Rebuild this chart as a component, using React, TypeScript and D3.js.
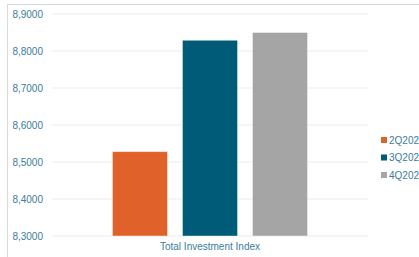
import React from 'react'
import * as d3 from 'd3'

const categories = ['Total Investment Index']
const seriesNames = ['2Q2023', '3Q2023', '4Q2023']
const seriesValues = [8.528, 8.829, 8.85]
const yTicks = [8.3, 8.4, 8.5, 8.6, 8.7, 8.8, 8.9]

const colors = ['#E0622A', '#005B79', '#A5A5A5']
const textColor = '#3A7C9E'

const App = () => {
  const width = 419
  const height = 257
  const plot = { left: 52, right: 368, top: 14, bottom: 236 }

  const y = d3.scaleLinear()
    .domain([8.3, 8.9])
    .range([plot.bottom, plot.top])

  const x0 = d3.scaleBand()
    .domain(categories)
    .range([plot.left, plot.right])
    .paddingInner(0)
    .paddingOuter(0.31)

  const x1 = d3.scaleBand()
    .domain(seriesNames)
    .range([0, x0.bandwidth()])
    .paddingInner(0.214)
    .paddingOuter(0)

  const fmt = (v: number) => d3.format('.4f')(v).replace('.', ',')

  return (
    <svg width={width} height={height}
      style={{ position: 'absolute', left: 0, top: 0, display: 'block', background: '#fff' }}
      fontFamily="'Liberation Sans', Arial, sans-serif">
      {/* chart frame */}
      <rect x={7.5} y={4.5} width={430} height={270} fill="none" stroke="#d9d9d9" />

      {/* grid and y labels */}
      {yTicks.map(t => (
        <g key={t}>
          <line x1={plot.left} x2={plot.right} y1={y(t)} y2={y(t)} stroke="#ebebeb" strokeWidth={1} />
          <text x={43} y={y(t)} dy="0.35em" textAnchor="end" fontSize={10} fill={textColor}>{fmt(t)}</text>
        </g>
      ))}

      {/* bars */}
      {categories.map(c => (
        <g key={c} transform={`translate(${x0(c)},0)`}>
          {seriesNames.map((s, i) => (
            <rect key={s}
              x={x1(s)}
              y={y(seriesValues[i])}
              width={x1.bandwidth()}
              height={y(8.3) - y(seriesValues[i])}
              fill={colors[i]}
              stroke="#ffffff"
              strokeOpacity={0.5}
              strokeWidth={0.8} />
          ))}
          <text x={x0.bandwidth() / 2} y={250} textAnchor="middle" fontSize={10} fill={textColor}>{c}</text>
        </g>
      ))}

      {/* legend */}
      {seriesNames.map((s, i) => (
        <g key={s} transform={`translate(381,${140 + i * 17.5})`}>
          <rect x={0} y={-3} width={6} height={6} fill={colors[i]} />
          <text x={8} y={0} dy="0.35em" fontSize={10} fill={textColor}>{s}</text>
        </g>
      ))}
    </svg>
  )
}

export default App
